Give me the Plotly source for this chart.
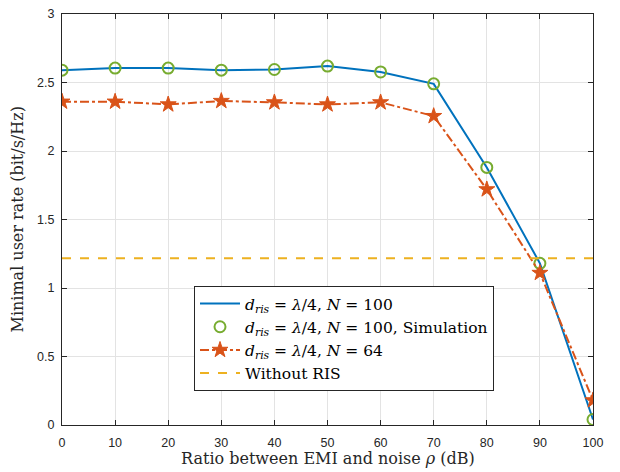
import plotly.graph_objects as go

rho_db = [0, 10, 20, 30, 40, 50, 60, 70, 80, 90, 100]
rate_n100 = [2.59, 2.605, 2.605, 2.59, 2.595, 2.62, 2.577, 2.49, 1.88, 1.18, 0.04]
rate_n100_sim = [2.59, 2.605, 2.605, 2.59, 2.595, 2.62, 2.577, 2.49, 1.88, 1.18, 0.04]
rate_n64 = [2.36, 2.36, 2.34, 2.365, 2.355, 2.34, 2.355, 2.255, 1.72, 1.11, 0.18]
rate_no_ris = [1.217, 1.217]
no_ris_x = [0, 100]

x_ticks = [0, 10, 20, 30, 40, 50, 60, 70, 80, 90, 100]
y_ticks = [0, 0.5, 1, 1.5, 2, 2.5, 3]
y_tick_labels = ["0", "0.5", "1", "1.5", "2", "2.5", "3"]

BLUE = "#0072BD"
ORANGE = "#D95319"
YELLOW = "#EDB120"
GREEN = "#77AC30"
SERIF = "DejaVu Serif, Liberation Serif, serif"
SANS = "Liberation Sans, Arial, sans-serif"

fig = go.Figure()
fig.add_trace(go.Scatter(
    x=rho_db, y=rate_n100, mode="lines",
    line=dict(color=BLUE, width=2),
    name="<i>d</i><sub><i>ris</i></sub> = <i>λ</i>/4, <i>N</i> = 100"))
fig.add_trace(go.Scatter(
    x=rho_db, y=rate_n100_sim, mode="markers",
    marker=dict(symbol="circle-open", size=11, color=GREEN, line=dict(width=2, color=GREEN)),
    name="<i>d</i><sub><i>ris</i></sub> = <i>λ</i>/4, <i>N</i> = 100, Simulation"))
fig.add_trace(go.Scatter(
    x=rho_db, y=rate_n64, mode="lines+markers",
    line=dict(color=ORANGE, width=2, dash="dashdot"),
    marker=dict(symbol="star", size=12, color=ORANGE, line=dict(width=1, color=ORANGE)),
    name="<i>d</i><sub><i>ris</i></sub> = <i>λ</i>/4, <i>N</i> = 64"))
fig.add_trace(go.Scatter(
    x=no_ris_x, y=rate_no_ris, mode="lines",
    line=dict(color=YELLOW, width=2, dash="dash"),
    name="Without RIS"))

PLOT_H = 411
fig.update_layout(
    width=612, height=464,
    margin=dict(l=54, r=27, t=6, b=47),
    paper_bgcolor="white", plot_bgcolor="white",
    showlegend=True,
    legend=dict(
        x=0.2486, y=139 / PLOT_H, xanchor="left", yanchor="top",
        bgcolor="white", bordercolor="#262626", borderwidth=1,
        font=dict(family=SERIF, size=15.5, color="black"),
        tracegroupgap=0, itemwidth=40,
    ),
    annotations=[
        dict(text="Ratio between EMI and noise <i>ρ</i> (dB)", xref="paper", yref="paper",
             x=0.5, y=-33 / PLOT_H, xanchor="center", yanchor="middle", showarrow=False,
             font=dict(family=SERIF, size=16, color="#262626")),
        dict(text="Minimal user rate (bit/s/Hz)", xref="paper", yref="paper",
             x=-45 / 531, y=0.5, xanchor="center", yanchor="middle", showarrow=False,
             textangle=-90, font=dict(family=SERIF, size=16, color="#262626")),
    ],
)
axis_common = dict(
    showgrid=True, gridcolor="#e3e3e3", gridwidth=1,
    showline=True, linecolor="#262626", linewidth=1, mirror="ticks",
    ticks="inside", ticklen=5, tickcolor="#262626",
    tickfont=dict(family=SANS, size=12.5, color="#262626"),
    zeroline=False, automargin=False, ticklabeloverflow="allow",
)
fig.update_xaxes(range=[0, 100], tickvals=x_ticks, ticklabelstandoff=6, **axis_common)
fig.update_yaxes(range=[0, 3], tickvals=y_ticks, ticktext=y_tick_labels,
                 ticklabelstandoff=4, **axis_common)

fig.write_html("out.html")
